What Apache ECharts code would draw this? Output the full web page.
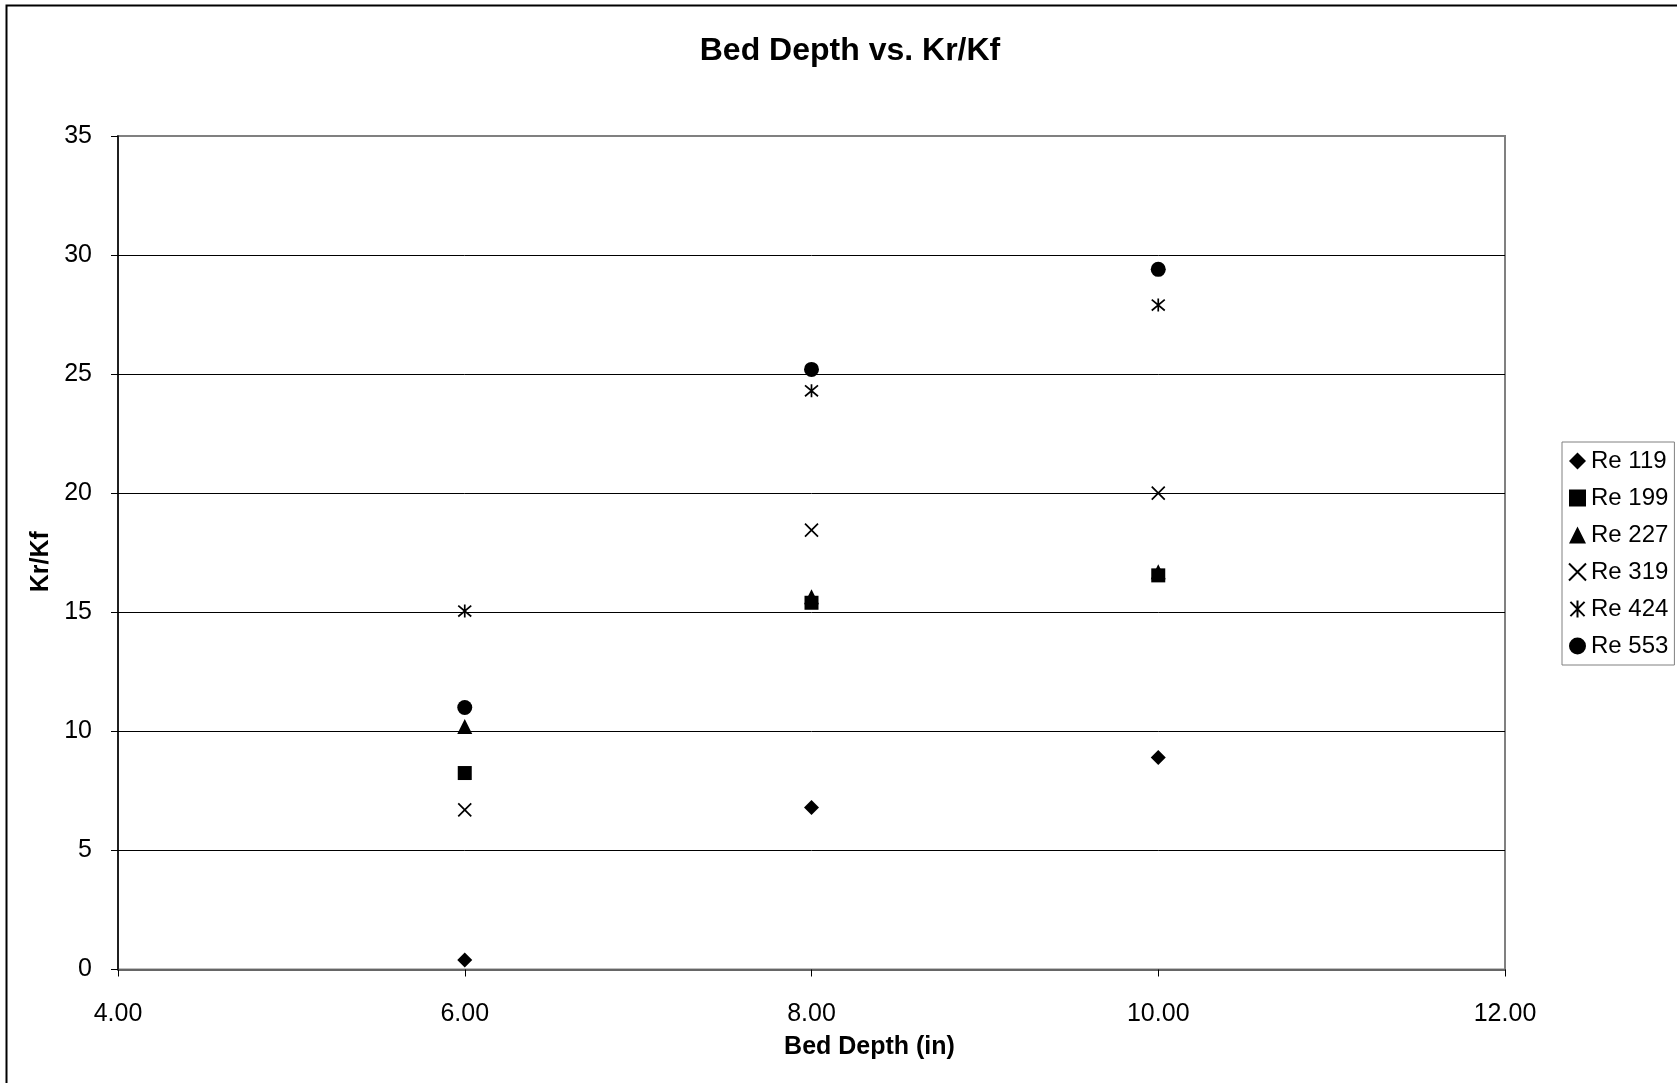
<!DOCTYPE html>
<html>
<head>
<meta charset="utf-8">
<script src="https://cdn.jsdelivr.net/npm/echarts@6/dist/echarts.min.js"></script>
<style>html,body{margin:0;padding:0;background:#fff}#c{width:1677px;height:1083px}</style>
</head>
<body>
<div id="c"></div>
<script>
var xValues = [6, 8, 10];
var seriesNames = ['Re 119', 'Re 199', 'Re 227', 'Re 319', 'Re 424', 'Re 553'];
var re119 = [0.4, 6.8, 8.9];
var re199 = [8.25, 15.4, 16.55];
var re227 = [10.2, 15.65, 16.7];
var re319 = [6.7, 18.45, 20.0];
var re424 = [15.05, 24.3, 27.9];
var re553 = [11.0, 25.2, 29.4];
var xTicks = [4, 6, 8, 10, 12];
var yTicks = [0, 5, 10, 15, 20, 25, 30, 35];

var FONT = 'Liberation Sans, Arial, Helvetica, sans-serif';
var symbols = ['diamond', 'rect', 'triangle',
  'path://M0,0L10,10M10,0L0,10',
  'path://M0,0L10,10M10,0L0,10M5,-1L5,11',
  'circle'];
var sizes = [15, 14, 15, 13, 13, 15];
var allValues = [re119, re199, re227, re319, re424, re553];

function pairs(ys) { return xValues.map(function (x, i) { return [x, ys[i]]; }); }

var series = seriesNames.map(function (name, k) {
  var isLine = k === 3 || k === 4;
  return {
    name: name,
    type: 'scatter',
    symbol: symbols[k],
    symbolSize: sizes[k],
    data: pairs(allValues[k]),
    itemStyle: isLine ? { color: '#000', borderColor: '#000', borderWidth: 1.7, opacity: 1 } : { color: '#000', opacity: 1 },
    emphasis: { disabled: true }
  };
});

var chart = echarts.init(document.getElementById('c'), null, { renderer: 'canvas' });
chart.setOption({
  animation: false,
  backgroundColor: '#fff',
  title: {
    text: 'Bed Depth vs. Kr/Kf',
    left: 850, top: 35, textAlign: 'center', padding: 0,
    textStyle: { fontFamily: FONT, fontSize: 32, fontWeight: 'bold', color: '#000' }
  },
  legend: {
    orient: 'vertical',
    left: 1562, top: 442,
    padding: [7, 6, 7, 6],
    borderColor: '#808080', borderWidth: 1,
    itemWidth: 17, itemHeight: 17, itemGap: 13,
    textStyle: { fontFamily: FONT, fontSize: 24, color: '#000', lineHeight: 24 },
    data: seriesNames
  },
  grid: {
    left: 118, right: 172, top: 136, bottom: 113.5,
    show: true, borderColor: '#808080', borderWidth: 2, backgroundColor: '#fff'
  },
  xAxis: {
    type: 'value', min: xTicks[0], max: xTicks[xTicks.length - 1], interval: 2,
    name: 'Bed Depth (in)', nameLocation: 'middle', nameGap: 65,
    nameTextStyle: { fontFamily: FONT, fontSize: 25, fontWeight: 'bold', color: '#000', padding: [0, 0, 0, 116] },
    axisLine: { show: true, onZero: false, lineStyle: { color: '#666', width: 2 } },
    axisTick: { show: true, inside: false, length: 7, lineStyle: { color: '#000', width: 1 } },
    axisLabel: { margin: 32, fontFamily: FONT, fontSize: 25, color: '#000',
      formatter: function (v) { return v.toFixed(2); } },
    splitLine: { show: false }
  },
  yAxis: {
    type: 'value', min: yTicks[0], max: yTicks[yTicks.length - 1], interval: 5,
    name: 'Kr/Kf', nameLocation: 'middle', nameGap: 56, nameRotate: 90,
    nameTextStyle: { fontFamily: FONT, fontSize: 25, fontWeight: 'bold', color: '#000', padding: [0, 18, 0, 0] },
    axisLine: { show: true, onZero: false, lineStyle: { color: '#000', width: 1.5 } },
    axisTick: { show: true, inside: false, length: 7, lineStyle: { color: '#000', width: 1 } },
    axisLabel: { margin: 26, fontFamily: FONT, fontSize: 25, color: '#000' },
    splitLine: { show: true, showMinLine: false, showMaxLine: false, lineStyle: { color: '#000', width: 1 } }
  },
  graphic: [{
    type: 'polyline',
    shape: { points: [[6.5, 1083], [6.5, 5.5], [1677, 5.5]] },
    style: { stroke: '#000', lineWidth: 2, fill: null },
    silent: true
  }],
  series: series
});
</script>
</body>
</html>
